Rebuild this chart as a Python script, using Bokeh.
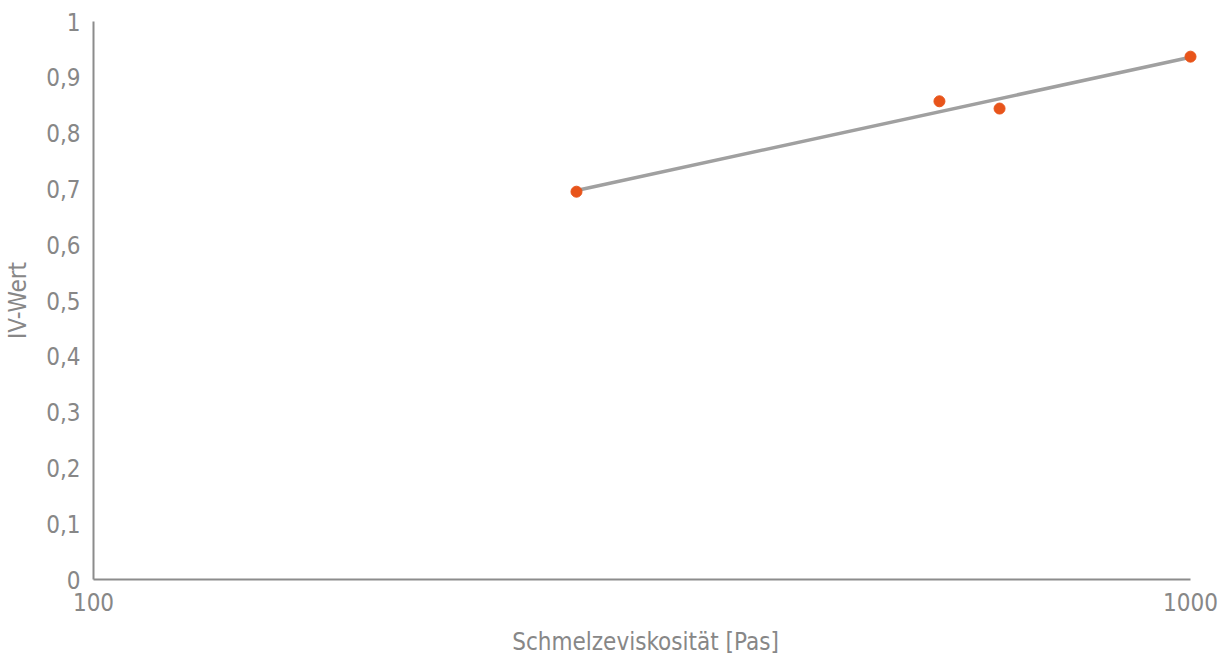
import numpy as np
from bokeh.plotting import figure
from bokeh.models import Range1d, FixedTicker
from bokeh.embed import file_html
from bokeh.resources import INLINE

# Data
viscosity = [275.6, 590.4, 669.8, 1000.0]   # Schmelzeviskosität [Pas]
iv_value = [0.695, 0.857, 0.844, 0.937]      # IV-Wert

y_ticks = [0, 0.1, 0.2, 0.3, 0.4, 0.5, 0.6, 0.7, 0.8, 0.9, 1.0]
y_labels = ["0", "0,1", "0,2", "0,3", "0,4", "0,5", "0,6", "0,7", "0,8", "0,9", "1"]
x_ticks = [100, 1000]
x_labels = ["100", "1000"]

# Logarithmic trend line (least squares on log10(x))
lx = np.log10(viscosity)
b, a = np.polyfit(lx, iv_value, 1)
trend_x = [min(viscosity), max(viscosity)]
trend_y = [a + b * np.log10(v) for v in trend_x]

FONT = "DejaVu Sans Condensed, DejaVu Sans"
TXT = "#878787"
AX = "#8c8c8c"

# frame extends a few pixels past 1000 so the last marker is not clipped
x_end = 1000 * 10 ** (7 / 1097)

p = figure(width=1220, height=660, x_axis_type="log",
           x_range=Range1d(100, x_end), y_range=Range1d(0, 1),
           output_backend="svg", toolbar_location=None,
           min_border_left=93, min_border_right=23,
           min_border_top=21, min_border_bottom=81)
p.outline_line_color = None
p.grid.grid_line_color = None

p.line(trend_x, trend_y, line_color="#a0a0a0", line_width=3.5)
p.scatter(viscosity, iv_value, size=11, fill_color="#e8541a", line_color="#e8541a")

for ax in (p.xaxis[0], p.yaxis[0]):
    ax.axis_line_color = AX
    ax.axis_line_width = 2
    ax.major_tick_line_color = None
    ax.minor_tick_line_color = None
    ax.major_tick_out = 0
    ax.major_tick_in = 0
    ax.minor_tick_out = 0
    ax.major_label_text_color = TXT
    ax.major_label_text_font = FONT
    ax.major_label_text_font_size = "24px"
    ax.axis_label_text_color = TXT
    ax.axis_label_text_font = FONT
    ax.axis_label_text_font_size = "24px"
    ax.axis_label_text_font_style = "normal"
    ax.major_label_standoff = 13

p.xaxis.ticker = FixedTicker(ticks=x_ticks)
p.xaxis.bounds = (100, 1000)
p.xaxis.major_label_overrides = {t: l for t, l in zip(x_ticks, x_labels)}
p.xaxis.axis_label = "Schmelzeviskosität [Pas]"
p.xaxis.axis_label_standoff = 14

p.yaxis.ticker = FixedTicker(ticks=y_ticks)
p.yaxis.major_label_overrides = {t: l for t, l in zip(y_ticks, y_labels)}
p.yaxis.axis_label = "IV-Wert"
p.yaxis.axis_label_standoff = 11

open("out.html", "w").write(file_html(p, INLINE))
